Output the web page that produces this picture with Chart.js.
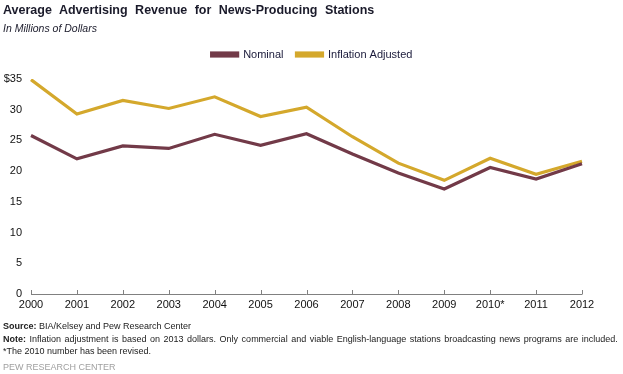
<!DOCTYPE html>
<html>
<head>
<meta charset="utf-8">
<script src="https://cdn.jsdelivr.net/npm/chart.js@4.4.0/dist/chart.umd.min.js"></script>
<style>
  body { margin: 0; background: #fff; }
  #wrap { position: relative; width: 623px; height: 374px; font-family: "Liberation Sans", Arial, sans-serif; color: #1a1a2a; }
  #myChart { position: absolute; left: 0; top: 0; }
  .txt { position: absolute; left: 3px; white-space: nowrap; }
  #titulo { top: 3px; font-size: 12.5px; font-weight: bold; word-spacing: 4px; }
  #subtitulo { top: 22px; font-size: 10.5px; font-style: italic; }
  .pie { font-size: 9px; color: #222; }
</style>
</head>
<body>
<div id="wrap">
  <canvas id="myChart" width="623" height="374"></canvas>
  <div class="txt" id="titulo">Average Advertising Revenue for News-Producing Stations</div>
  <div class="txt" id="subtitulo">In Millions of Dollars</div>
  <div class="txt pie" style="top:321px"><b>Source:</b> BIA/Kelsey and Pew Research Center</div>
  <div class="txt pie" style="top:334px; word-spacing:1px"><b>Note:</b> Inflation adjustment is based on 2013 dollars. Only commercial and viable English-language stations broadcasting news programs are included.</div>
  <div class="txt pie" style="top:346px">*The 2010 number has been revised.</div>
  <div class="txt pie" style="top:362px; color:#a0a0a0">PEW RESEARCH CENTER</div>
</div>
<script>
var anios = ['2000', '2001', '2002', '2003', '2004', '2005', '2006', '2007', '2008', '2009', '2010*', '2011', '2012'];
var nominal = [25.8, 22.0, 24.1, 23.7, 26.0, 24.2, 26.1, 22.8, 19.7, 17.1, 20.6, 18.7, 21.2];
var ajustado = [34.9, 29.3, 31.5, 30.2, 32.1, 28.9, 30.4, 25.6, 21.3, 18.5, 22.1, 19.5, 21.6];
var marcasY = [0, 5, 10, 15, 20, 25, 30, 35];

// eje x con marcas hacia arriba
var ejeX = {
  id: 'ejeX',
  afterDraw: function (chart) {
    var ctx = chart.ctx;
    var x = chart.scales.x;
    var y0 = chart.scales.y.getPixelForValue(0);
    ctx.save();
    ctx.strokeStyle = '#808080';
    ctx.lineWidth = 1;
    ctx.beginPath();
    ctx.moveTo(x.left, y0 + 0.5);
    ctx.lineTo(x.right, y0 + 0.5);
    for (var i = 0; i < anios.length; i++) {
      var px = Math.round(x.getPixelForValue(i)) + 0.5;
      ctx.moveTo(px, y0 + 0.5);
      ctx.lineTo(px, y0 - 4);
    }
    ctx.stroke();
    ctx.restore();
  }
};

// mover la leyenda a la derecha y hacia arriba
var moverLeyenda = {
  id: 'moverLeyenda',
  afterLayout: function (chart) {
    chart.legend.left += 21;
    chart.legend.right += 21;
    chart.legend.top -= 9;
    chart.legend.bottom -= 9;
  }
};

var ctx = document.getElementById('myChart').getContext('2d');
var myChart = new Chart(ctx, {
  type: 'line',
  data: {
    labels: anios,
    datasets: [{
      label: 'Nominal',
      data: nominal,
      borderColor: '#723a48',
      backgroundColor: '#723a48',
      borderWidth: 3.2,
      pointRadius: 0,
      tension: 0
    },
    {
      label: 'Inflation Adjusted',
      data: ajustado,
      borderColor: '#d4a82c',
      backgroundColor: '#d4a82c',
      borderWidth: 3.2,
      pointRadius: 0,
      tension: 0
    }]
  },
  options: {
    responsive: false,
    animation: false,
    layout: { padding: { left: 0, right: 41, top: 45, bottom: 0 } },
    plugins: {
      tooltip: { enabled: false },
      legend: {
        position: 'top',
        labels: {
          boxWidth: 26,
          boxHeight: 3,
          padding: 13,
          color: '#1a1a3a',
          font: { family: '"Liberation Sans", Arial, sans-serif', size: 11 }
        }
      }
    },
    scales: {
      x: {
        grid: { display: false, drawTicks: false },
        border: { display: false },
        ticks: {
          color: '#111',
          padding: 4,
          maxRotation: 0,
          autoSkip: false,
          font: { family: '"Liberation Sans", Arial, sans-serif', size: 11 }
        },
        afterFit: function (s) { s.height = 80; }
      },
      y: {
        min: 0,
        max: 35,
        grid: { display: false, drawTicks: false },
        border: { display: false },
        afterBuildTicks: function (s) { s.ticks = marcasY.map(function (v) { return { value: v }; }); },
        ticks: {
          color: '#111',
          padding: 9,
          callback: function (v) { return v === 35 ? '$35' : v; },
          font: { family: '"Liberation Sans", Arial, sans-serif', size: 11 }
        },
        afterFit: function (s) { s.width = 31; }
      }
    }
  },
  plugins: [ejeX, moverLeyenda]
});
</script>
</body>
</html>
